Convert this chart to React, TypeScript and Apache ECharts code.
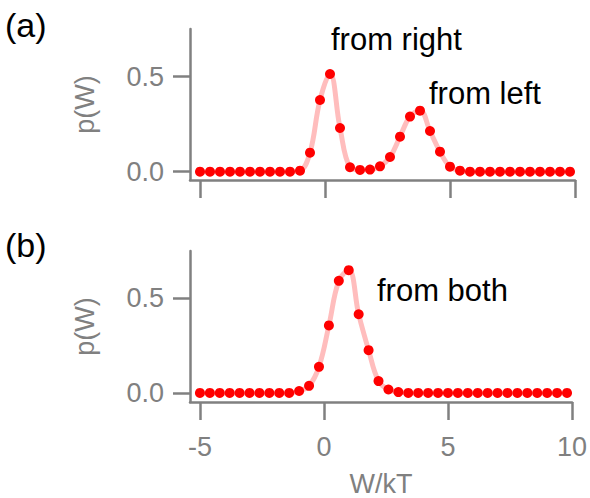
import React, { useEffect, useRef } from "react";
import * as echarts from "echarts";

const xValues = [
  -5.0, -4.6, -4.2, -3.8, -3.4, -3.0, -2.6, -2.2, -1.8, -1.4, -1.0, -0.6, -0.2,
  0.2, 0.6, 1.0, 1.4, 1.8, 2.2, 2.6, 3.0, 3.4, 3.8, 4.2, 4.6, 5.0, 5.4, 5.8,
  6.2, 6.6, 7.0, 7.4, 7.8, 8.2, 8.6, 9.0, 9.4, 9.8,
];

// panel (a): from right + from left
const pA = [
  0, 0, 0, 0, 0, 0, 0, 0, 0, 0,
  0.005, 0.1, 0.377, 0.514, 0.23, 0.023, 0.009, 0.011, 0.028, 0.077, 0.184,
  0.29, 0.321, 0.214, 0.105, 0.026, 0.005,
  0, 0, 0, 0, 0, 0, 0, 0, 0, 0, 0,
];

// panel (b): from both
const pB = [
  0, 0, 0, 0, 0, 0, 0, 0, 0, 0,
  0.01, 0.037, 0.137, 0.355, 0.59, 0.646, 0.414, 0.225, 0.062, 0.018, 0.004,
  0, 0, 0, 0, 0, 0, 0, 0, 0, 0, 0, 0, 0, 0, 0, 0, 0,
];

const xTicks = [-5, 0, 5, 10];
const yTicks = [0, 0.5];

const GREY = "#808080";
const FONT = "Liberation Sans";

function pairs(ys: number[]) {
  return xValues.map((x, i) => [x, ys[i]]);
}

export default function App() {
  const ref = useRef<HTMLDivElement>(null);
  useEffect(() => {
    if (!ref.current) return;
    const chart = echarts.init(ref.current, null, { renderer: "svg" });
    const axisLine = { onZero: false, lineStyle: { color: GREY, width: 2.5 } };
    const tickStyle = { color: GREY, width: 2.5 };
    const mkX = (gi: number, withLabel: boolean) => ({
      gridIndex: gi,
      type: "value",
      min: -5.4,
      max: 10,
      axisLine,
      axisTick: { show: true, length: 18, customValues: xTicks, lineStyle: tickStyle },
      axisLabel: withLabel
        ? {
            customValues: xTicks,
            formatter: (v: number) => String(v),
            margin: 31,
            fontSize: 27,
            color: GREY,
            fontFamily: FONT,
          }
        : { show: false },
      splitLine: { show: false },
      ...(withLabel
        ? {
            name: "W/kT",
            nameLocation: "middle",
            nameGap: 68,
            nameTextStyle: { fontSize: 27, color: GREY, fontFamily: FONT },
          }
        : {}),
    });
    const mkY = (gi: number, min: number, max: number) => ({
      gridIndex: gi,
      type: "value",
      min,
      max,
      axisLine,
      axisTick: { show: true, length: 17, customValues: yTicks, lineStyle: tickStyle },
      axisLabel: {
        customValues: yTicks,
        formatter: (v: number) => v.toFixed(1),
        margin: 26,
        fontSize: 27,
        color: GREY,
        fontFamily: FONT,
      },
      splitLine: { show: false },
      name: "p(W)",
      nameLocation: "middle",
      nameGap: 92,
      nameTextStyle: { fontSize: 27, color: GREY, fontFamily: FONT },
    });
    const lineSeries = (idx: number, ys: number[]) => ({
      type: "line",
      xAxisIndex: idx,
      yAxisIndex: idx,
      data: pairs(ys),
      smooth: 0.4,
      showSymbol: false,
      symbol: "none",
      lineStyle: { color: "#ffbdbd", width: 5 },
      z: 1,
    });
    const dotSeries = (idx: number, ys: number[]) => ({
      type: "scatter",
      xAxisIndex: idx,
      yAxisIndex: idx,
      data: pairs(ys),
      symbolSize: 10,
      itemStyle: { color: "#ff0000", opacity: 1 },
      z: 2,
    });
    const txt = (text: string, x: number, y: number, size: number, color: string) => ({
      type: "text",
      x,
      y,
      style: {
        text,
        fontSize: size,
        fontFamily: FONT,
        fill: color,
        textAlign: "left",
        textVerticalAlign: "middle",
      },
    });
    chart.setOption({
      animation: false,
      backgroundColor: "#ffffff",
      grid: [
        { left: 190, top: 29, width: 385, height: 151 },
        { left: 190, top: 251, width: 385, height: 151 },
      ],
      xAxis: [mkX(0, false), mkX(1, true)],
      yAxis: [mkY(0, -0.044, 0.751), mkY(1, -0.048, 0.747)],
      series: [lineSeries(0, pA), dotSeries(0, pA), lineSeries(1, pB), dotSeries(1, pB)],
      graphic: [
        txt("(a)", 5, 25, 34, "#000000"),
        txt("(b)", 5, 245, 34, "#000000"),
        txt("from right", 331, 39, 31, "#000000"),
        txt("from left", 429, 93, 31, "#000000"),
        txt("from both", 377, 290, 31, "#000000"),
      ],
    });
    return () => chart.dispose();
  }, []);
  return (
    <div
      ref={ref}
      style={{ position: "absolute", left: 0, top: 0, width: 590, height: 498 }}
    />
  );
}
